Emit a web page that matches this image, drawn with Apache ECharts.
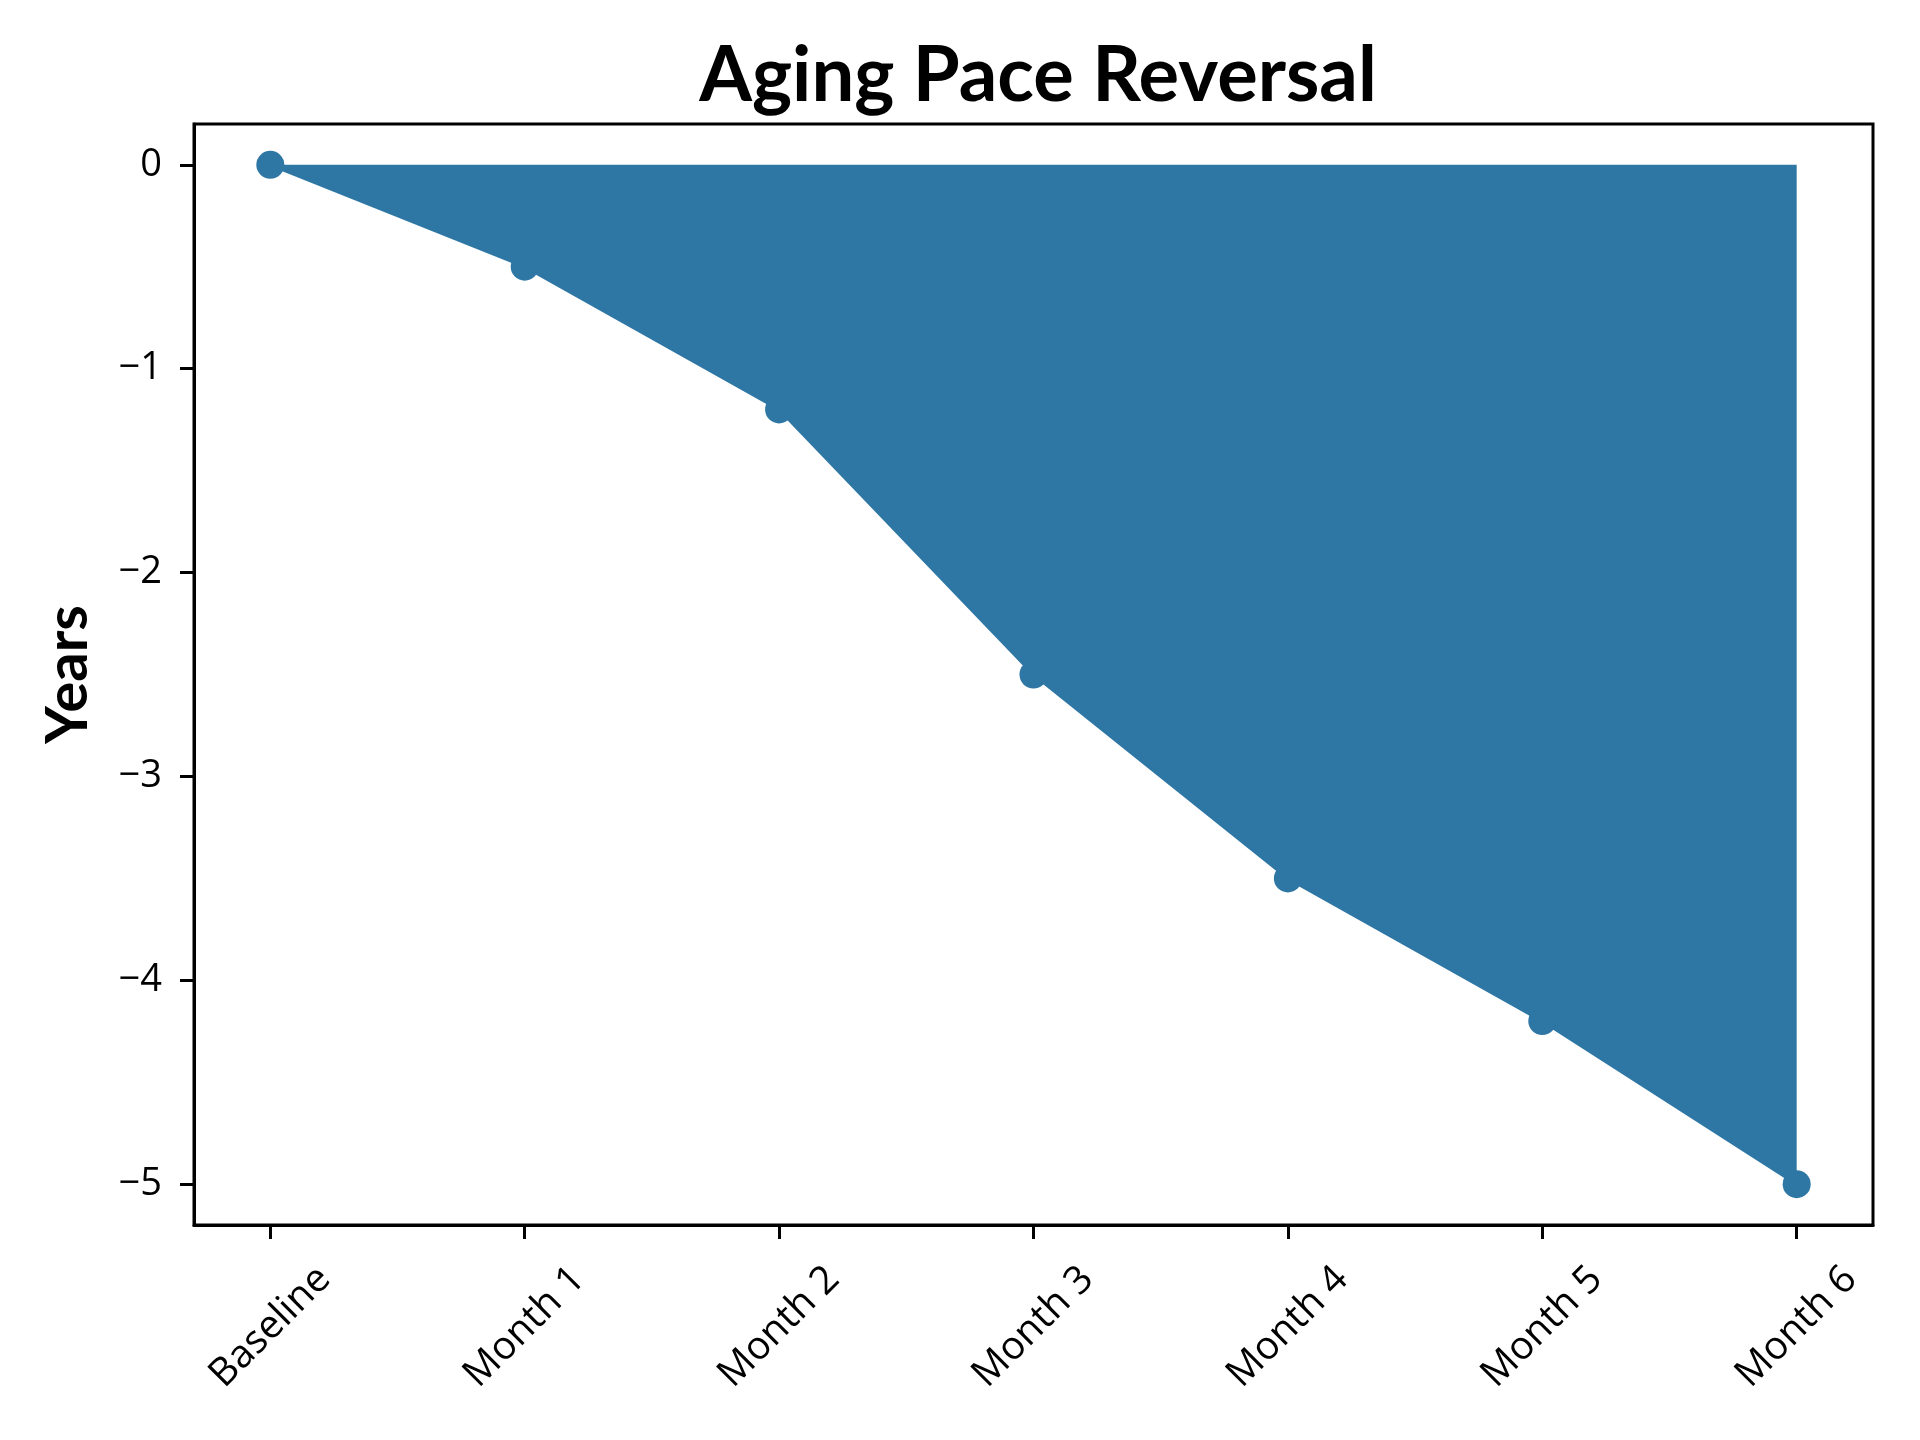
<!DOCTYPE html>
<html>
<head>
<meta charset="utf-8">
<script src="https://cdn.jsdelivr.net/npm/echarts@6/dist/echarts.min.js"></script>
<style>
  html, body { margin: 0; padding: 0; background: #ffffff; }
  #chart { width: 1920px; height: 1440px; }
</style>
</head>
<body>
<div id="chart"></div>
<script>
const categories = ['Baseline', 'Month 1', 'Month 2', 'Month 3', 'Month 4', 'Month 5', 'Month 6'];
const yearsValues = [0, -0.5, -1.2, -2.5, -3.5, -4.2, -5.0];
const yTicks = [0, -1, -2, -3, -4, -5];
const titleText = 'Aging Pace Reversal';
const yAxisTitle = 'Years';

const FONT = 'Lato, "Open Sans", "Liberation Sans", sans-serif';
const TICKFONT = '"Open Sans", Lato, "Liberation Sans", sans-serif';
const COLOR = '#2e77a5';

const chart = echarts.init(document.getElementById('chart'), null, { renderer: 'canvas' });

const xTickValues = categories.map((c, i) => i);
const seriesData = yearsValues.map((v, i) => [i, v]);

chart.setOption({
  animation: false,
  backgroundColor: '#ffffff',
  title: {
    text: titleText,
    left: 1033,
    textAlign: 'center',
    top: 33,
    textStyle: { fontFamily: FONT, fontWeight: 'bold', fontSize: 76, color: '#000' }
  },
  grid: {
    left: 194, right: 47, top: 124, bottom: 215,
    show: true, borderColor: '#000', borderWidth: 3, backgroundColor: 'transparent'
  },
  xAxis: {
    type: 'value',
    min: -0.3, max: 6.3,
    axisLine: { show: true, onZero: false, lineStyle: { color: '#000', width: 3 } },
    axisTick: { show: true, customValues: xTickValues, length: 14, lineStyle: { color: '#000', width: 3 } },
    splitLine: { show: false },
    axisLabel: {
      customValues: xTickValues,
      rotate: 45,
      align: 'center',
      verticalAlign: 'middle',
      margin: 102,
      fontFamily: TICKFONT, fontWeight: 500, fontSize: 39, color: '#000',
      formatter: (v) => categories[Math.round(v)]
    }
  },
  yAxis: {
    type: 'value',
    min: -5.2, max: 0.2,
    name: yAxisTitle,
    nameLocation: 'middle',
    nameGap: 97,
    nameTextStyle: { fontFamily: FONT, fontWeight: 'bold', fontSize: 58, color: '#000' },
    axisLine: { show: true, onZero: false, lineStyle: { color: '#000', width: 3 } },
    axisTick: { show: true, customValues: yTicks, length: 14, lineStyle: { color: '#000', width: 3 } },
    splitLine: { show: false },
    axisLabel: {
      customValues: yTicks,
      margin: 32,
      fontFamily: TICKFONT, fontWeight: 500, fontSize: 38, color: '#000',
      formatter: (v) => String(v).replace('-', '\u2212')
    }
  },
  series: [{
    type: 'line',
    data: seriesData,
    symbol: 'circle',
    symbolSize: 28,
    showSymbol: true,
    itemStyle: { color: COLOR },
    lineStyle: { color: COLOR, width: 3 },
    areaStyle: { color: COLOR, opacity: 1 },
    z: 2
  }]
});
</script>
</body>
</html>
